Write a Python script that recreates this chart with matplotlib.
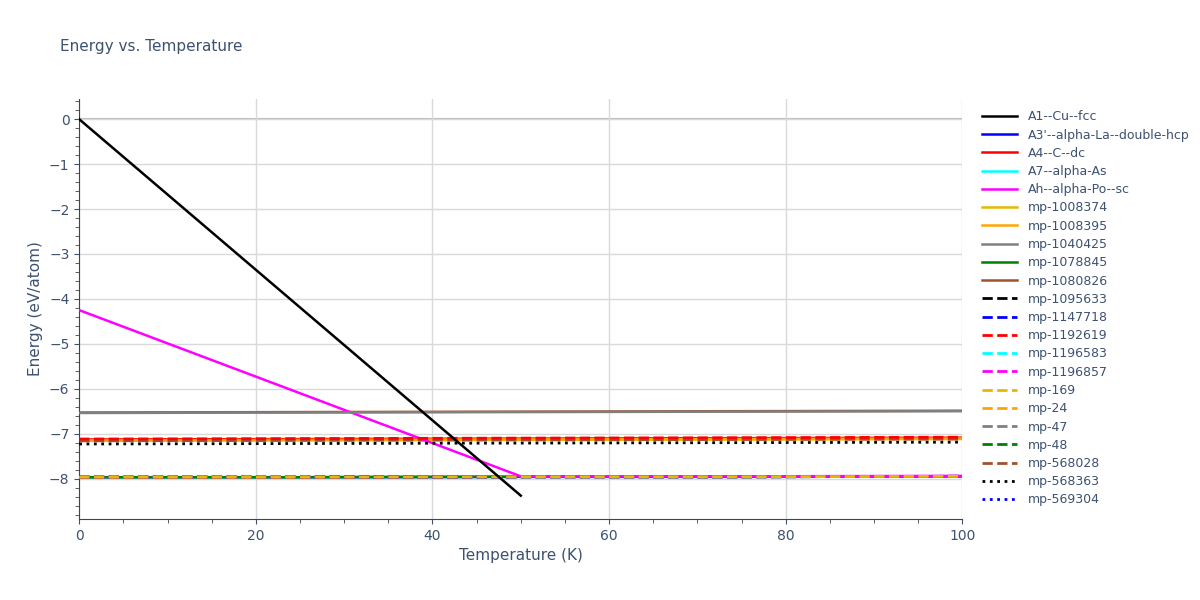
import matplotlib
matplotlib.use("Agg")
import matplotlib.pyplot as plt
import numpy as np

T_full = [0, 25, 50, 75, 100]
T_half = [0, 25, 50]
T_ah = [0, 25, 50, 75, 100]

series = [
    ("A1--Cu--fcc", T_half, [0.0, -4.19, -8.38], "black", "-"),
    ("A3'--alpha-La--double-hcp", T_full, [-7.97, -7.97, -7.96, -7.96, -7.95], "blue", "-"),
    ("A4--C--dc", T_full, [-7.13, -7.12, -7.11, -7.10, -7.09], "red", "-"),
    ("A7--alpha-As", T_full, [-7.97, -7.97, -7.96, -7.96, -7.95], "cyan", "-"),
    ("Ah--alpha-Po--sc", T_ah, [-4.25, -6.10, -7.95, -7.95, -7.94], "magenta", "-"),
    ("mp-1008374", T_full, [-7.16, -7.15, -7.14, -7.13, -7.12], "#e6b800", "-"),
    ("mp-1008395", T_full, [-7.15, -7.14, -7.13, -7.12, -7.11], "orange", "-"),
    ("mp-1040425", T_full, [-6.54, -6.53, -6.52, -6.51, -6.50], "gray", "-"),
    ("mp-1078845", T_full, [-7.97, -7.97, -7.96, -7.96, -7.95], "green", "-"),
    ("mp-1080826", T_full, [-6.53, -6.52, -6.51, -6.50, -6.49], "#a0522d", "-"),
    ("mp-1095633", T_full, [-7.97, -7.97, -7.96, -7.96, -7.95], "black", "--"),
    ("mp-1147718", T_full, [-7.97, -7.97, -7.96, -7.96, -7.95], "blue", "--"),
    ("mp-1192619", T_full, [-7.12, -7.11, -7.10, -7.09, -7.08], "red", "--"),
    ("mp-1196583", T_full, [-7.97, -7.97, -7.96, -7.96, -7.95], "cyan", "--"),
    ("mp-1196857", T_full, [-7.97, -7.97, -7.96, -7.96, -7.95], "magenta", "--"),
    ("mp-169", T_full, [-7.97, -7.97, -7.96, -7.96, -7.95], "#e6b800", "--"),
    ("mp-24", T_full, [-7.14, -7.13, -7.12, -7.11, -7.10], "orange", "--"),
    ("mp-47", T_full, [-7.97, -7.97, -7.96, -7.96, -7.95], "gray", "--"),
    ("mp-48", T_full, [-7.97, -7.97, -7.96, -7.96, -7.95], "green", "--"),
    ("mp-568028", T_full, [-7.16, -7.15, -7.14, -7.13, -7.12], "#a0522d", "--"),
    ("mp-568363", T_full, [-7.23, -7.22, -7.21, -7.20, -7.19], "black", ":"),
    ("mp-569304", T_full, [-7.97, -7.97, -7.96, -7.96, -7.95], "blue", ":"),
]
top_names = {"mp-1196857": 5, "mp-169": 6, "mp-1040425": 5, "mp-1192619": 5, "mp-568363": 5,
             "A1--Cu--fcc": 7, "Ah--alpha-Po--sc": 4}

fig = plt.figure(figsize=(12, 6), dpi=100)
ax = fig.add_axes([0.066, 0.135, 0.736, 0.7])
for name, t, e, c, ls in series:
    ax.plot(t, e, color=c, linestyle=ls, linewidth=2 if ls != "-" else 1.8, label=name,
            zorder=top_names.get(name, 2))

ax.set_xlim(0, 100)
ax.set_ylim(-8.9, 0.45)
ax.set_xticks([0, 20, 40, 60, 80, 100])
ax.set_yticks(range(-8, 1))
ax.set_yticklabels(["\u2212%d" % abs(v) if v else "0" for v in range(-8, 1)])
ax.grid(True, color="#d9d9d9", linewidth=1)
ax.axhline(0, color="#bbbbbb", linewidth=1.5, zorder=0)
ax.set_axisbelow(True)
for s in ["top", "right"]:
    ax.spines[s].set_visible(False)
ax.spines["left"].set_color("#444")
ax.spines["bottom"].set_color("#444")
ax.minorticks_on()
ax.tick_params(colors="#3d5170", labelsize=10)
ax.tick_params(which="minor", length=3, color="#444")
ax.set_xlabel("Temperature (K)", color="#3d5170", fontsize=11)
ax.set_ylabel("Energy (eV/atom)", color="#3d5170", fontsize=11)
fig.text(0.05, 0.915, "Energy vs. Temperature", color="#3d5170", fontsize=11)
leg = ax.legend(loc="upper left", bbox_to_anchor=(1.01, 1.0), frameon=False,
                fontsize=9, labelcolor="#3d5170", handlelength=2.8,
                labelspacing=0.42)
fig.savefig("out.png")
